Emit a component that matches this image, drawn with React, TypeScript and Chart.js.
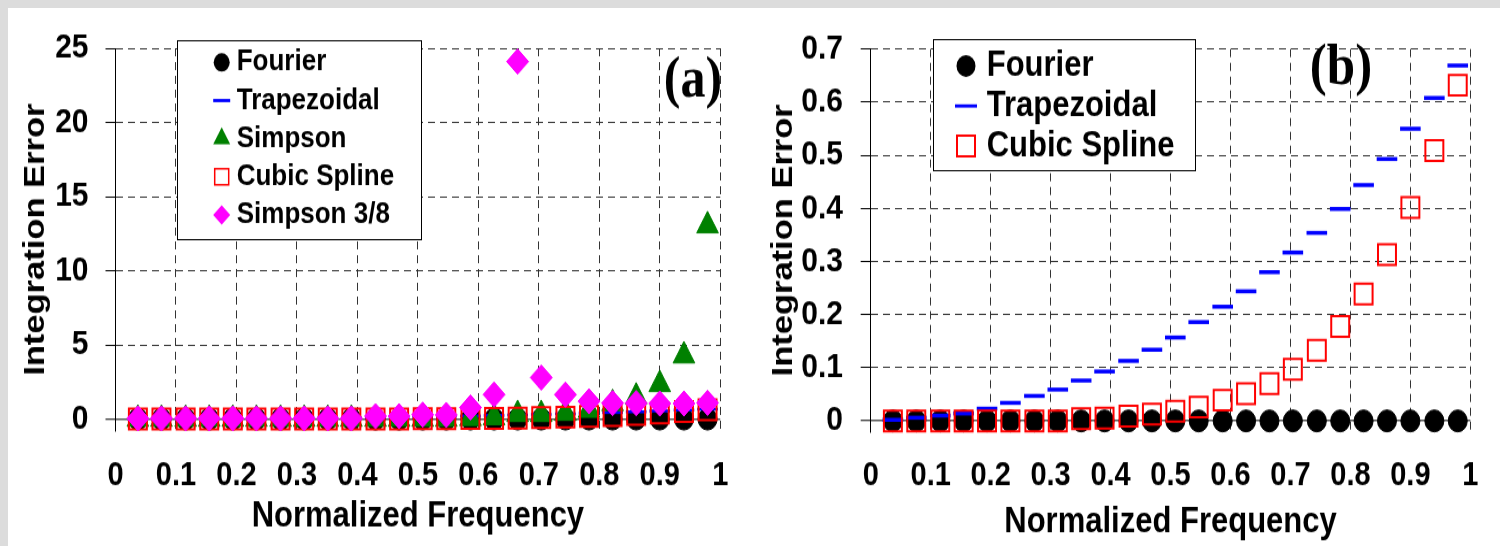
import React, { useEffect, useRef } from 'react';
import { Chart, registerables } from 'chart.js';

Chart.register(...registerables);

// ---------- data ----------
const X_VALUES = [0.037, 0.076, 0.116, 0.155, 0.194, 0.233, 0.273, 0.312, 0.351, 0.390, 0.430, 0.469, 0.508, 0.547, 0.587, 0.626, 0.665, 0.704, 0.744, 0.783, 0.822, 0.861, 0.900, 0.940, 0.979];
const FOURIER = [0, 0, 0, 0, 0, 0, 0, 0, 0, 0, 0, 0, 0, 0, 0, 0, 0, 0, 0, 0, 0, 0, 0, 0, 0];
const TRAPEZOIDAL = [0.002, 0.006, 0.010, 0.014, 0.023, 0.034, 0.047, 0.059, 0.076, 0.093, 0.113, 0.134, 0.157, 0.186, 0.215, 0.244, 0.280, 0.317, 0.354, 0.399, 0.444, 0.493, 0.550, 0.608, 0.669];
const CUBIC_SPLINE = [0, 0, 0, 0, 0, 0, 0, 0, 0.004, 0.005, 0.009, 0.013, 0.018, 0.026, 0.039, 0.051, 0.070, 0.097, 0.133, 0.178, 0.239, 0.313, 0.402, 0.509, 0.632];
const SIMPSON = [0, 0, 0, 0, 0, 0, 0, 0, 0, 0, 0, 0, 0, 0, 0.05, 0.1, 0.32, 0.32, 0.4, 0.6, 1.05, 1.49, 2.34, 4.27, 13.04];
const SIMPSON_38 = [0.05, 0.05, 0.05, 0.05, 0.05, 0.05, 0.05, 0.05, 0.05, 0.05, 0.2, 0.2, 0.3, 0.28, 0.78, 1.65, 24.1, 2.8, 1.65, 1.2, 1.08, 1.08, 1.05, 1.05, 1.1];

const X_TICKS = [0, 0.1, 0.2, 0.3, 0.4, 0.5, 0.6, 0.7, 0.8, 0.9, 1];
const X_TICK_LABELS = ['0', '0.1', '0.2', '0.3', '0.4', '0.5', '0.6', '0.7', '0.8', '0.9', '1'];
const Y_TICKS_A = [0, 5, 10, 15, 20, 25];
const Y_TICK_LABELS_A = ['0', '5', '10', '15', '20', '25'];
const Y_TICKS_B = [0, 0.1, 0.2, 0.3, 0.4, 0.5, 0.6, 0.7];
const Y_TICK_LABELS_B = ['0', '0.1', '0.2', '0.3', '0.4', '0.5', '0.6', '0.7'];

const X_TITLE = 'Normalized Frequency';
const Y_TITLE = 'Integration Error';

// ---------- styles ----------
const SANS = '"Liberation Sans", Arial, sans-serif';
const SERIF = '"Liberation Serif", "Times New Roman", serif';
const CANVAS_H = 468;
const DISPLAY_H = 538;

type Kind = 'circle' | 'dash' | 'triangle' | 'square' | 'diamond';

interface SeriesDef {
  label: string;
  values: number[];
  kind: Kind;
  color: string;
  radius: number;
  lineWidth: number;
  legendSize: number;
  legendWidth: number;
}

function makeDataset(s: SeriesDef, order: number) {
  const styleMap: Record<Kind, string> = {
    circle: 'circle',
    dash: 'line',
    triangle: 'triangle',
    square: 'rect',
    diamond: 'rectRot',
  };
  const hollow = s.kind === 'square';
  return {
    type: 'scatter',
    label: s.label,
    data: X_VALUES.map((x, i) => ({ x, y: s.values[i] })),
    showLine: false,
    pointStyle: styleMap[s.kind],
    pointRadius: s.radius,
    pointHoverRadius: s.radius,
    pointBackgroundColor: hollow ? 'rgba(0,0,0,0)' : s.color,
    pointBorderColor: s.color,
    pointBorderWidth: s.lineWidth,
    pointHoverBorderWidth: s.lineWidth,
    order,
    clip: false,
  };
}

function drawLegendSymbol(ctx: CanvasRenderingContext2D, s: SeriesDef, x: number, y: number) {
  ctx.save();
  ctx.fillStyle = s.color;
  ctx.strokeStyle = s.color;
  const r = s.legendSize;
  if (s.kind === 'circle') {
    ctx.beginPath();
    ctx.arc(x, y, r, 0, Math.PI * 2);
    ctx.fill();
  } else if (s.kind === 'dash') {
    ctx.fillRect(x - r, y - s.legendWidth / 2, 2 * r, s.legendWidth);
  } else if (s.kind === 'triangle') {
    const w = r * Math.sin(Math.PI / 3);
    ctx.beginPath();
    ctx.moveTo(x, y - r);
    ctx.lineTo(x + w, y + r / 2);
    ctx.lineTo(x - w, y + r / 2);
    ctx.closePath();
    ctx.fill();
  } else if (s.kind === 'square') {
    ctx.lineWidth = s.legendWidth;
    ctx.strokeRect(x - r / 2, y - r / 2, r, r);
  } else if (s.kind === 'diamond') {
    ctx.beginPath();
    ctx.moveTo(x, y - r);
    ctx.lineTo(x + r, y);
    ctx.lineTo(x, y + r);
    ctx.lineTo(x - r, y);
    ctx.closePath();
    ctx.fill();
  }
  ctx.restore();
}

interface PanelSpec {
  id: string;
  width: number;
  left: number;
  yMin: number;
  yMax: number;
  yTicks: number[];
  yTickLabels: string[];
  yAxisWidth: number;
  xAxisHeight: number;
  padTop: number;
  padRight: number;
  yTickPad: number;
  xTickPad: number;
  yTitlePad: number;
  xTitlePad: number;
  series: SeriesDef[];
  legendBox: { x: number; y: number; w: number; h: number };
  legendRows: number[];
  legendSymbolX: number;
  legendTextX: number;
  legendFont: number;
  tag: { text: string; x: number; y: number; size: number };
}

const FOURIER_DEF = (legendSize: number): SeriesDef => ({ label: 'Fourier', values: FOURIER, kind: 'circle', color: '#000000', radius: 9.5, lineWidth: 1, legendSize, legendWidth: 0 });
const TRAP_DEF = (lw: number, legendSize: number): SeriesDef => ({ label: 'Trapezoidal', values: TRAPEZOIDAL, kind: 'dash', color: '#0000ff', radius: 10.3, lineWidth: lw, legendSize, legendWidth: 2.8 });
const SIMPSON_DEF: SeriesDef = { label: 'Simpson', values: SIMPSON, kind: 'triangle', color: '#008000', radius: 12.5, lineWidth: 1, legendSize: 9.8, legendWidth: 0 };
const CUBIC_DEF = (legendSize: number, lw: number): SeriesDef => ({ label: 'Cubic Spline', values: CUBIC_SPLINE, kind: 'square', color: '#ff0000', radius: 12.7, lineWidth: 2, legendSize, legendWidth: lw });
const SIMPSON38_DEF: SeriesDef = { label: 'Simpson 3/8', values: SIMPSON_38, kind: 'diamond', color: '#ff00ff', radius: 11, lineWidth: 1, legendSize: 8.5, legendWidth: 0 };

const PANEL_A: PanelSpec = {
  id: 'a',
  width: 742,
  left: 0,
  yMin: -0.8,
  yMax: 25,
  yTicks: Y_TICKS_A,
  yTickLabels: Y_TICK_LABELS_A,
  yAxisWidth: 107.5,
  xAxisHeight: 100.1,
  padTop: 27.2,
  padRight: 22.5,
  yTickPad: 17,
  xTickPad: 21.7,
  yTitlePad: 10,
  xTitlePad: 6.8,
  series: [FOURIER_DEF(8), TRAP_DEF(2.6, 8.5), SIMPSON_DEF, CUBIC_DEF(14, 1.5), SIMPSON38_DEF],
  legendBox: { x: 169.5, y: 28.5, w: 244, h: 173 },
  legendRows: [47.3, 80.5, 113.6, 146.8, 179.9],
  legendSymbolX: 213.7,
  legendTextX: 228.7,
  legendFont: 26,
  tag: { text: '(a)', x: 685, y: 64, size: 50 },
};

const PANEL_B: PanelSpec = {
  id: 'b',
  width: 750,
  left: 742,
  yMin: -0.02,
  yMax: 0.7,
  yTicks: Y_TICKS_B,
  yTickLabels: Y_TICK_LABELS_B,
  yAxisWidth: 120.7,
  xAxisHeight: 99.6,
  padTop: 26.5,
  padRight: 15.3,
  yTickPad: 17.7,
  xTickPad: 21.6,
  yTitlePad: 15.5,
  xTitlePad: 2.4,
  series: [FOURIER_DEF(9.5), TRAP_DEF(3.5, 11), CUBIC_DEF(18, 2)],
  legendBox: { x: 183.5, y: 27.5, w: 262, h: 114 },
  legendRows: [50.4, 85.2, 120],
  legendSymbolX: 216,
  legendTextX: 236.7,
  legendFont: 31,
  tag: { text: '(b)', x: 591, y: 53, size: 51 },
};

function buildConfig(spec: PanelSpec) {
  const n = spec.series.length;
  const overlay = {
    id: 'boxLegend_' + spec.id,
    afterDraw(chart: any) {
      const ctx: CanvasRenderingContext2D = chart.ctx;
      ctx.save();
      const b = spec.legendBox;
      ctx.fillStyle = '#ffffff';
      ctx.fillRect(b.x, b.y, b.w, b.h);
      ctx.strokeStyle = '#000000';
      ctx.lineWidth = 1;
      ctx.strokeRect(b.x, b.y, b.w, b.h);
      spec.series.forEach((s, i) => {
        const y = spec.legendRows[i];
        drawLegendSymbol(ctx, s, spec.legendSymbolX, y);
        ctx.fillStyle = '#000000';
        ctx.font = `bold ${spec.legendFont}px ${SANS}`;
        ctx.textAlign = 'left';
        ctx.textBaseline = 'middle';
        ctx.fillText(s.label, spec.legendTextX, y);
      });
      ctx.font = `bold ${spec.tag.size}px ${SERIF}`;
      ctx.textAlign = 'center';
      ctx.textBaseline = 'middle';
      ctx.fillStyle = '#000000';
      ctx.fillText(spec.tag.text, spec.tag.x, spec.tag.y);
      ctx.restore();
    },
  };

  const isZero = (c: any) => c && c.tick && c.tick.value === 0;

  return {
    type: 'scatter',
    data: {
      datasets: spec.series.map((s, i) => makeDataset(s, n - i)),
    },
    options: {
      responsive: false,
      animation: false,
      devicePixelRatio: 1,
      events: [],
      layout: { padding: { top: spec.padTop, right: spec.padRight, bottom: 0, left: 0 } },
      plugins: {
        legend: { display: false },
        tooltip: { enabled: false },
      },
      scales: {
        x: {
          type: 'linear',
          min: 0,
          max: 1,
          afterBuildTicks: (s: any) => {
            s.ticks = X_TICKS.map((v) => ({ value: v }));
          },
          afterFit: (s: any) => {
            s.height = spec.xAxisHeight;
          },
          ticks: {
            callback: (_v: any, i: number) => X_TICK_LABELS[i],
            font: { family: SANS, size: 29, weight: 'bold' },
            color: '#000000',
            padding: spec.xTickPad,
            maxRotation: 0,
            autoSkip: false,
          },
          grid: { color: '#333333', lineWidth: 1, drawTicks: false },
          border: { display: false, dash: [7, 5] },
          title: {
            display: true,
            text: X_TITLE,
            color: '#000000',
            font: { family: SANS, size: 31, weight: 'bold' },
            padding: { top: 0, bottom: spec.xTitlePad },
          },
        },
        y: {
          type: 'linear',
          min: spec.yMin,
          max: spec.yMax,
          afterBuildTicks: (s: any) => {
            s.ticks = spec.yTicks.map((v) => ({ value: v }));
          },
          afterFit: (s: any) => {
            s.width = spec.yAxisWidth;
          },
          ticks: {
            callback: (_v: any, i: number) => spec.yTickLabels[i],
            font: { family: SANS, size: 30, weight: 'bold' },
            color: '#000000',
            padding: spec.yTickPad,
          },
          grid: {
            color: (c: any) => (isZero(c) ? '#555555' : '#333333'),
            lineWidth: (c: any) => (isZero(c) ? 1.5 : 1),
            drawTicks: true,
            tickLength: 10,
            tickColor: '#000000',
            tickWidth: 1,
          },
          border: {
            display: true,
            color: '#000000',
            width: 1,
            dash: (c: any) => (c && c.tick ? (c.tick.value === 0 ? [] : [7, 5]) : []),
          },
          title: {
            display: true,
            text: Y_TITLE,
            color: '#000000',
            font: { family: SANS, size: 30, weight: 'bold' },
            padding: { top: spec.yTitlePad, bottom: 0 },
          },
        },
      },
    },
    plugins: [overlay],
  };
}

function PanelChart({ spec }: { spec: PanelSpec }) {
  const ref = useRef<HTMLCanvasElement | null>(null);
  useEffect(() => {
    if (!ref.current) return;
    const chart = new Chart(ref.current, buildConfig(spec) as any);
    return () => chart.destroy();
  }, [spec]);
  return (
    <canvas
      ref={ref}
      width={spec.width}
      height={CANVAS_H}
      style={{
        position: 'absolute',
        left: spec.left,
        top: 0,
        width: `${spec.width}px`,
        height: `${DISPLAY_H}px`,
      }}
    />
  );
}

export default function App() {
  return (
    <div style={{ position: 'fixed', inset: 0, background: '#dcdcdc', overflow: 'hidden' }}>
      <div style={{ position: 'absolute', left: 8, top: 8, right: 0, bottom: 0, background: '#ffffff' }}>
        <PanelChart spec={PANEL_A} />
        <PanelChart spec={PANEL_B} />
      </div>
    </div>
  );
}
